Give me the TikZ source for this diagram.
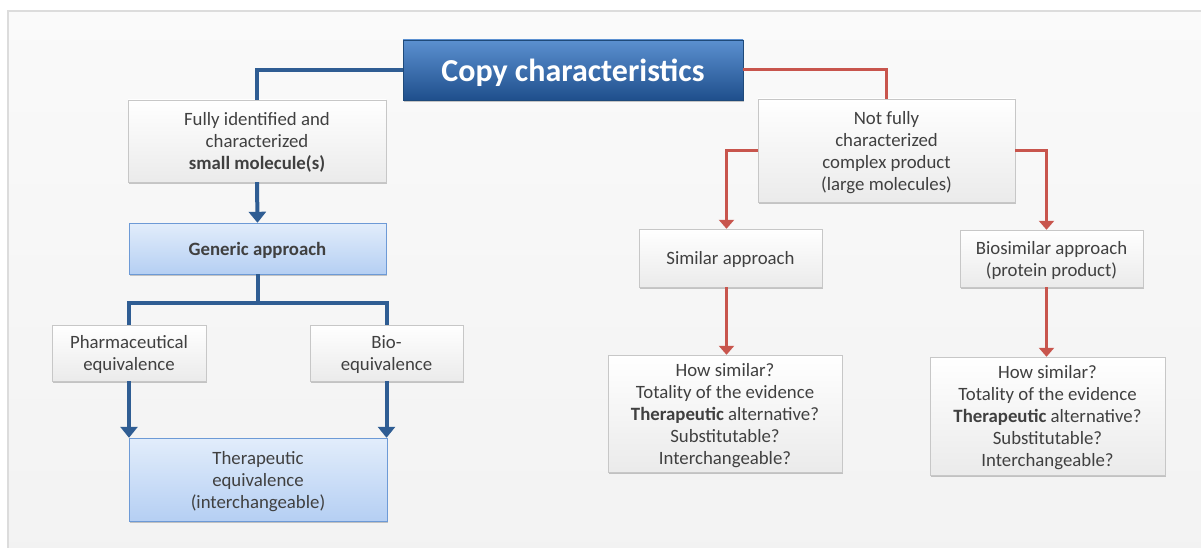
\documentclass[tikz,border=0pt]{standalone}
\usepackage{fontspec}
\setmainfont{Carlito}
\usepackage{tikz}
\usetikzlibrary{positioning, arrows.meta, shadows}
\usepackage{xcolor}

\definecolor{frameline}{HTML}{DCDCDC}
\definecolor{txtgrey}{HTML}{404040}
\definecolor{blueline}{HTML}{2F5D93}
\definecolor{redline}{HTML}{C8554D}
\definecolor{titletop}{HTML}{5B90D0}
\definecolor{titlebot}{HTML}{1F4F8C}
\definecolor{titleedge}{HTML}{1F4A7A}
\definecolor{lbluetop}{HTML}{E2EDFB}
\definecolor{lbluebot}{HTML}{B5CFF3}
\definecolor{lblueedge}{HTML}{6D9AD6}

\begin{document}
\begin{tikzpicture}[
    x=1pt, y=-1pt,
    font=\fontsize{18.8}{22}\selectfont,
    shade/.style={drop shadow={shadow xshift=1pt, shadow yshift=-2pt, opacity=0.35, fill=black!60}},
    greybox/.style={rectangle, draw=black!22, top color=white, bottom color=black!8, text=txtgrey, align=center, inner sep=0pt, text depth=0pt, shade},
    bluebox/.style={rectangle, draw=lblueedge, top color=lbluetop, bottom color=lbluebot, text=txtgrey, align=center, inner sep=0pt, text depth=0pt, shade},
    titlebox/.style={rectangle, draw=titleedge, top color=titletop, bottom color=titlebot, text=white, font=\fontsize{32}{36}\selectfont\bfseries, inner sep=0pt, text depth=0pt, shade},
    barrow/.style={-{Triangle[width=17pt,length=11pt]}, line width=4pt, draw=blueline},
    bline/.style={line width=4pt, draw=blueline},
    rarrow/.style={-{Triangle[width=15pt,length=9pt]}, line width=3pt, draw=redline},
    rline/.style={line width=3pt, draw=redline}
]

% page and frame
\useasboundingbox (0,0) rectangle (1201,548);
\fill[white] (0,0) rectangle (1201,548);
\draw[frameline, line width=1.5pt, top color=black!2, bottom color=black!5] (8,11) rectangle (1215,560);

% Title
\node (title) [titlebox, minimum width=340pt, minimum height=60pt] at (573,70) {Copy characteristics};

% Left branch
\node (fully) [greybox, minimum width=258pt, minimum height=82pt] at (257,141)
    {Fully identified and\\ characterized\\ \textbf{small molecule(s)}};
\node (generic) [bluebox, minimum width=257pt, minimum height=51pt] at (257.5,248.5)
    {\textbf{Generic approach}};
\node (pharm) [greybox, minimum width=154pt, minimum height=56pt] at (129,353)
    {Pharmaceutical\\ equivalence};
\node (bio) [greybox, minimum width=153pt, minimum height=56pt] at (386.5,353)
    {Bio-\\ equivalence};
\node (thera) [bluebox, minimum width=258pt, minimum height=83pt] at (258,479.5)
    {Therapeutic\\ equivalence\\ (interchangeable)};

% Right branch
\node (notfully) [greybox, minimum width=257pt, minimum height=103pt] at (886.5,150.5)
    {Not fully\\ characterized\\ complex product\\ (large molecules)};
\node (similar) [greybox, minimum width=183pt, minimum height=58pt] at (730.5,258)
    {Similar approach};
\node (biosim) [greybox, minimum width=183pt, minimum height=57pt] at (1051.5,258.5)
    {Biosimilar approach\\ (protein product)};
\node (quest1) [greybox, minimum width=234pt, minimum height=117pt] at (725,413.5)
    {How similar?\\ Totality of the evidence\\ \textbf{Therapeutic} alternative?\\ Substitutable?\\ Interchangeable?};
\node (quest2) [greybox, minimum width=235pt, minimum height=118pt] at (1047.5,416)
    {How similar?\\ Totality of the evidence\\ \textbf{Therapeutic} alternative?\\ Substitutable?\\ Interchangeable?};

% Connectors, blue side
\draw [bline] (title.west) -| (fully.north);
\draw [barrow] (fully.south) -- (generic.north);
\draw [bline] (generic.south) -- ++(0,29) -| (pharm.north);
\draw [bline] (generic.south) -- ++(0,29) -| (bio.north);
\draw [barrow] (pharm.south) -- (pharm.south |- thera.north);
\draw [barrow] (bio.south) -- (bio.south |- thera.north);

% Connectors, red side
\draw [rline] (title.east) -| (notfully.north);
\draw [rarrow] (notfully.west) -| ([xshift=-4pt]similar.north);
\draw [rarrow] (notfully.east) -| ([xshift=-5pt]biosim.north);
\draw [rarrow] ([xshift=-4pt]similar.south) -- ([xshift=-4pt]similar.south |- quest1.north);
\draw [rarrow] ([xshift=-5pt]biosim.south) -- ([xshift=-5pt]biosim.south |- quest2.north);

\end{tikzpicture}
\end{document}
